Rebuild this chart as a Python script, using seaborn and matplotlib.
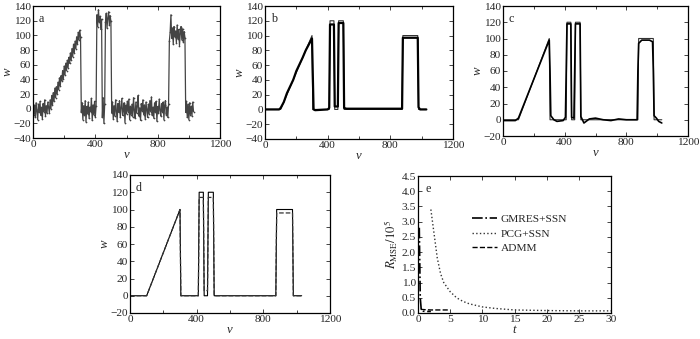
import numpy as np
import pandas as pd
import matplotlib
matplotlib.use("Agg")
import matplotlib.pyplot as plt
import seaborn as sns
from matplotlib.lines import Line2D
from matplotlib.ticker import MultipleLocator

sns.set_style("ticks")
plt.rcParams['font.family'] = ['Liberation Serif', 'DejaVu Serif']
plt.rcParams['mathtext.fontset'] = 'stix'

# ---------------- data ----------------
# true signal (breakpoints)
v_true = [0, 100, 300, 305, 410, 415, 440, 445, 465, 470, 500, 505, 875, 880, 975, 980, 1030]
w_true = [0, 0, 100, 0, 0, 120, 120, 0, 0, 120, 120, 0, 0, 100, 100, 0, 0]

# panel a: noisy observation, read every 5 units
v_noisy = list(range(0, 1035, 5))
w_noisy = [
    # 0-95
    3, -8, 5, -12, 8, -3, -15, 6, -5, 10, -9, 2, -14, 7, -4, 12, -10, 4, -6, 9,
    # 100-300
    2, -6, 12, 0, 18, 5, 22, 10, 28, 15, 30, 20, 36, 26, 42, 31, 45, 38, 52, 41,
    58, 46, 62, 52, 66, 56, 70, 62, 76, 66, 82, 71, 88, 76, 92, 82, 98, 88, 104, 94,
    107,
    # 305-405
    98, -5, 8, -15, 4, -9, 11, -18, 3, -7, 9, -13, 2, -4, 14, -16, 5, -8, 10, -11, 4,
    # 410-440
    128, 112, 135, 118, 126, 108, 122,
    # 445-460
    -12, 15, -20, 6,
    # 465-500
    118, 130, 110, 124, 132, 114, 127, 119,
    # 505-870
    -6, 9, -14, 4, -10, 12, -3, -17, 7, -5, 11, -12, 2, 14, -9, -2, 8, -19, 5, -7,
    10, -4, 13, -15, 3, -8, 6, -11, 15, -2, -13, 9, -6, 4, 18, -10, 1, -16, 7, -3,
    12, -8, 5, -14, 9, -1, -12, 6, -7, 11, -4, 16, -9, 2, -13, 8, -5, 10, -17, 3,
    -6, 13, -2, -10, 7, -4, 9, -15, 5, 11, -8, 2, -12, 6,
    # 875-975
    92, 104, 128, 96, 110, 88, 112, 98, 106, 90, 114, 95, 108, 86, 103, 112, 94, 109, 91, 105, 97,
    # 980-1030
    -5, 10, -12, 6, -15, 8, -8, 3, -10, 9, -4,
]

# panel b reconstruction
v_rec_b = [0, 90, 100, 120, 140, 160, 180, 200, 220, 240, 260, 280, 300, 310, 320, 400, 410, 415,
           440, 445, 465, 470, 500, 505, 520, 875, 880, 975, 980, 990, 1030]
w_rec_b = [0, 0, 2, 10, 22, 31, 40, 52, 61, 70, 80, 88, 96, 0, -1, 0, 2, 115,
           115, 4, 4, 117, 117, 2, 1, 1, 97, 97, 3, 0, 0]

# panel c reconstruction
v_rec_c = [0, 80, 100, 300, 305, 310, 330, 350, 390, 405, 410, 415, 440, 445, 460, 465, 470, 500,
           505, 515, 525, 560, 600, 650, 700, 750, 800, 870, 875, 880, 900, 950, 970, 975, 980,
           995, 1010, 1030]
w_rec_c = [-1, -1, 2, 98, 60, 5, 0, -2, -1, 3, 60, 118, 118, 3, 2, 60, 118, 118,
           4, 0, -4, 1, 2, 0, -1, 1, 0, 0, 60, 94, 98, 98, 96, 60, 5,
           2, -2, -4]

# panel d reconstruction
v_rec_d = [0, 100, 300, 305, 410, 415, 440, 445, 465, 470, 500, 505, 875, 880, 975, 980, 1030]
w_rec_d = [0, 0, 100, 0, 0, 114, 114, 6, 6, 114, 114, 0, 0, 96, 96, 0, 0]

# panel e convergence
t_gmres = [0.2, 0.35, 0.5, 0.8, 1.2, 2.0]
r_gmres = [2.8, 0.5, 0.12, 0.06, 0.05, 0.05]
t_pcg = [2, 2.5, 3, 3.5, 4, 5, 6, 7, 8, 10, 12, 15, 20, 25, 30]
r_pcg = [3.4, 2.6, 1.8, 1.3, 1.0, 0.7, 0.5, 0.38, 0.3, 0.2, 0.15, 0.1, 0.08, 0.07, 0.07]
t_admm = [0.4, 1, 2, 3, 4, 5]
r_admm = [0.12, 0.11, 0.1, 0.1, 0.1, 0.1]

# ---------------- figure ----------------
W, H = 700, 339
fig = plt.figure(figsize=(W / 100, H / 100), dpi=100)


def add_ax(left, top, right, bottom):
    return fig.add_axes([left / W, 1 - bottom / H, (right - left) / W, (bottom - top) / H])


FS = 8.2


def style_signal(ax, ymin, label):
    ax.set_xlim(0, 1200)
    ax.set_ylim(ymin, 140)
    ax.xaxis.set_major_locator(MultipleLocator(400))
    ax.xaxis.set_minor_locator(MultipleLocator(200))
    ax.yaxis.set_major_locator(MultipleLocator(20))
    ax.tick_params(direction='in', top=True, right=True, which='both', labelsize=FS,
                   length=3, width=0.6, pad=1.5)
    ax.tick_params(which='minor', length=2)
    ax.set_xlabel('v', fontstyle='italic', fontsize=FS + 1, labelpad=0)
    ax.set_ylabel('w', fontstyle='italic', fontsize=FS + 1, labelpad=0)
    for s in ax.spines.values():
        s.set_linewidth(0.9)
        s.set_color('black')
    ax.text(0.03, 0.95, label, transform=ax.transAxes, fontsize=FS + 0.5, va='top', ha='left')


def line(ax, x, y, **kw):
    df = pd.DataFrame({'x': x, 'y': y})
    sns.lineplot(data=df, x='x', y='y', ax=ax, sort=False, estimator=None, **kw)


# a
ax_a = add_ax(33, 6, 220, 138)
line(ax_a, v_noisy, w_noisy, color='#444444', lw=0.9, marker='.', markersize=2.5,
     markeredgewidth=0)
style_signal(ax_a, -40, 'a')

# b
ax_b = add_ax(265, 6, 453, 139)
line(ax_b, v_true, w_true, color='#333333', lw=0.8)
line(ax_b, v_rec_b, w_rec_b, color='black', lw=1.6)
style_signal(ax_b, -40, 'b')

# c
ax_c = add_ax(503, 6, 688, 136)
line(ax_c, v_true, w_true, color='#333333', lw=0.8)
line(ax_c, v_rec_c, w_rec_c, color='black', lw=1.2)
style_signal(ax_c, -20, 'c')

# d
ax_d = add_ax(130, 175, 330, 313)
line(ax_d, v_true, w_true, color='black', lw=0.8)
line(ax_d, v_rec_d, w_rec_d, color='#333333', lw=0.9, linestyle='--')
style_signal(ax_d, -20, 'd')

# e
ax_e = add_ax(418, 176, 611, 313)
line(ax_e, t_gmres, r_gmres, color='black', lw=1.2, linestyle='-.')
line(ax_e, t_pcg, r_pcg, color='#333333', lw=1.0, linestyle=':')
line(ax_e, t_admm, r_admm, color='black', lw=1.0, linestyle='--')
ax_e.set_xlim(0, 30)
ax_e.set_ylim(0, 4.5)
ax_e.xaxis.set_major_locator(MultipleLocator(5))
ax_e.yaxis.set_major_locator(MultipleLocator(0.5))
ax_e.yaxis.set_major_formatter(matplotlib.ticker.FormatStrFormatter('%.1f'))
ax_e.tick_params(direction='in', top=True, right=True, labelsize=FS, length=3, width=0.6, pad=1.5)
ax_e.set_xlabel('t', fontstyle='italic', fontsize=FS + 1, labelpad=0)
ax_e.set_ylabel(r'$R_{\mathrm{MSE}}/10^5$', fontsize=FS + 1, labelpad=1)
for s in ax_e.spines.values():
    s.set_linewidth(0.9)
    s.set_color('black')
ax_e.text(0.04, 0.95, 'e', transform=ax_e.transAxes, fontsize=FS + 0.5, va='top', ha='left')
handles = [Line2D([], [], color='black', lw=1.2, linestyle='-.'),
           Line2D([], [], color='#333333', lw=1.0, linestyle=':'),
           Line2D([], [], color='black', lw=1.0, linestyle='--')]
ax_e.legend(handles, ['GMRES+SSN', 'PCG+SSN', 'ADMM'], loc='upper left',
            bbox_to_anchor=(0.24, 0.78), frameon=False, fontsize=FS,
            handlelength=2.2, handletextpad=0.3, labelspacing=0.4, borderpad=0.2)

fig.savefig('out.png', dpi=100)
